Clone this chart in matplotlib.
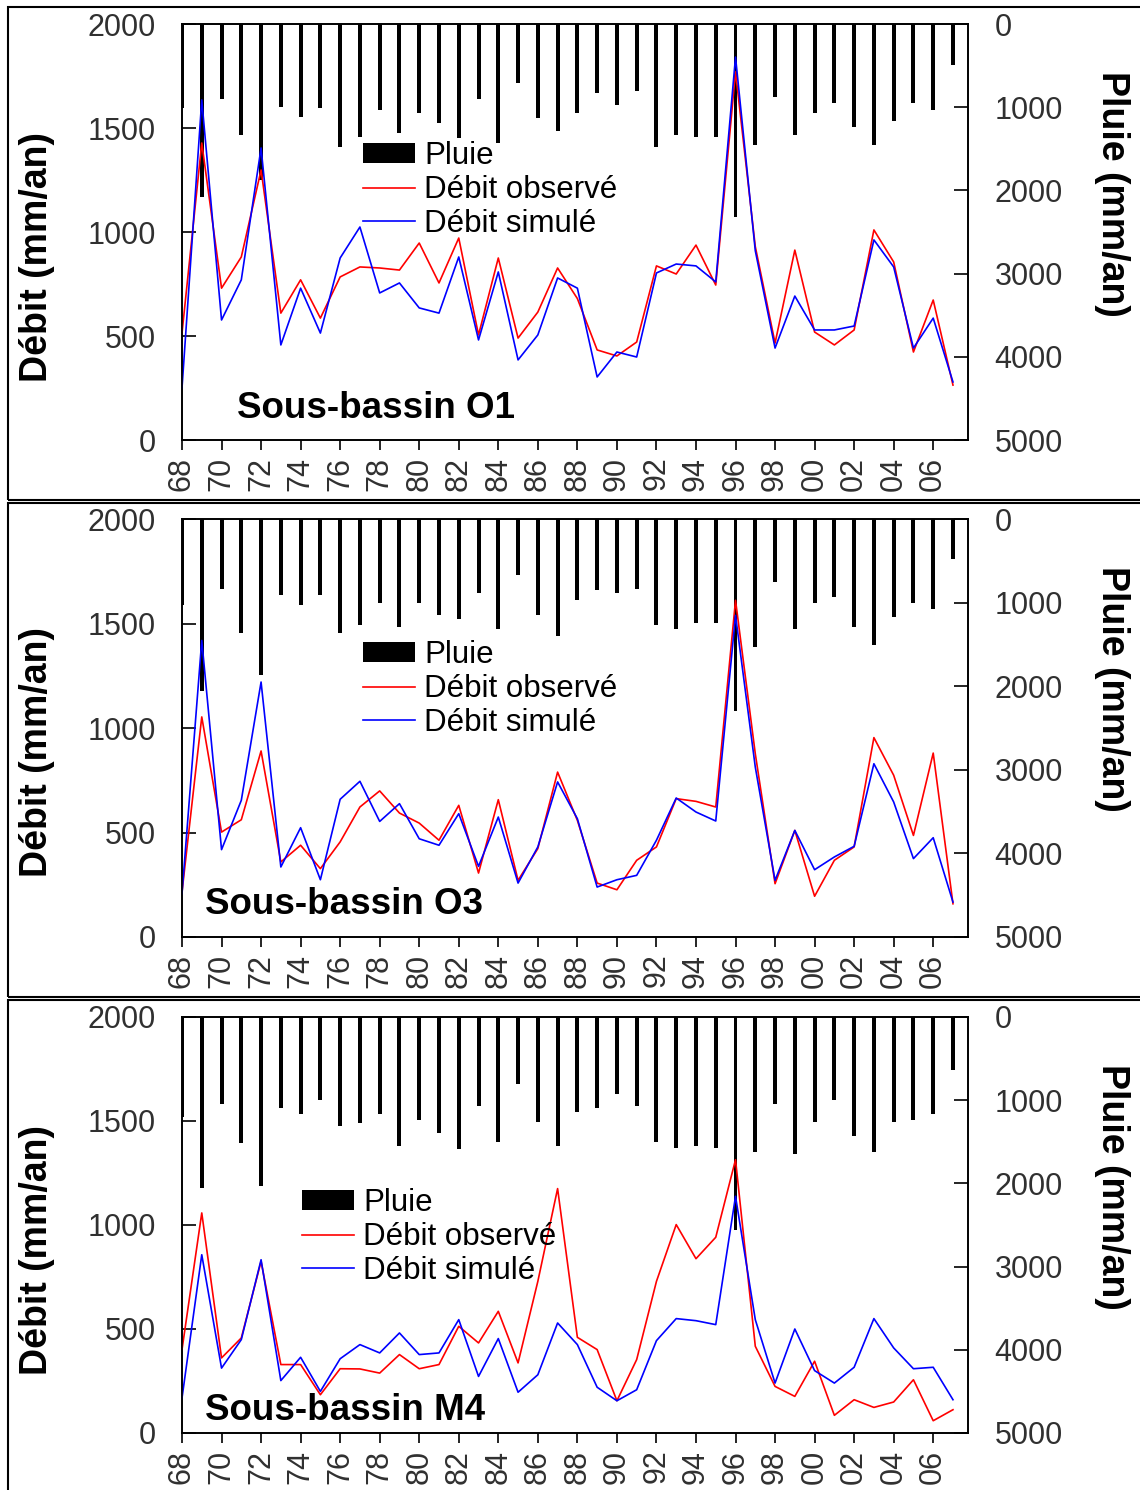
import numpy as np
import matplotlib
matplotlib.use("Agg")
import matplotlib.pyplot as plt
from matplotlib.patches import Rectangle

plt.rcParams['font.family'] = ['Liberation Sans', 'DejaVu Sans']

# Years 1968-2007
years = list(range(1968, 2008))
tick_years = list(range(1968, 2007, 2))
tick_labels = [f"{y % 100:02d}" for y in tick_years]

# Sous-bassin O1
rain_o1 = [1010, 2080, 900, 1334, 1875, 1000, 1115, 1010, 1475, 1355,
           1035, 1305, 1075, 1190, 1370, 900, 1430, 705, 1130, 1285,
           1070, 830, 975, 800, 1475, 1335, 1355, 1355, 2315, 1455,
           875, 1335, 1070, 945, 1235, 1455, 1165, 945, 1035, 490]
obs_o1 = [514, 1428, 730, 880, 1298, 610, 770, 586, 784, 832,
          827, 817, 947, 755, 971, 505, 875, 490, 615, 827,
          680, 433, 404, 471, 837, 798, 937, 745, 1770, 930,
          466, 913, 519, 457, 529, 1010, 856, 423, 673, 264]
sim_o1 = [250, 1635, 577, 770, 1404, 457, 730, 514, 875, 1024,
          707, 755, 635, 610, 880, 481, 808, 385, 505, 779,
          730, 303, 423, 399, 803, 846, 837, 760, 1841, 910,
          442, 692, 529, 529, 548, 962, 832, 442, 586, 279]

# Sous-bassin O3
rain_o3 = [1025, 2061, 837, 1364, 1862, 905, 1025, 905, 1364, 1264,
           1005, 1292, 1005, 1144, 1192, 885, 1316, 666, 1144, 1404,
           965, 853, 885, 837, 1264, 1316, 1244, 1244, 2300, 1531,
           758, 1316, 1005, 933, 1292, 1507, 1172, 1005, 1077, 478]
obs_o3 = [215, 1053, 502, 561, 890, 359, 439, 327, 455, 622,
          699, 593, 545, 463, 630, 306, 657, 271, 423, 789,
          558, 258, 226, 367, 431, 662, 649, 622, 1611, 877,
          255, 510, 195, 367, 431, 954, 774, 486, 880, 159]
sim_o3 = [207, 1419, 418, 654, 1220, 335, 523, 274, 659, 745,
          553, 638, 470, 439, 590, 338, 574, 258, 431, 742,
          566, 239, 274, 295, 463, 665, 598, 555, 1539, 813,
          271, 510, 322, 383, 434, 829, 646, 375, 475, 167]

# Sous-bassin M4
rain_m4 = [1200, 2052, 1040, 1520, 2028, 1092, 1160, 1000, 1308, 1280,
           1160, 1548, 1240, 1400, 1588, 1068, 1500, 808, 1260, 1548,
           1140, 1092, 924, 1068, 1500, 1572, 1548, 1572, 2560, 1620,
           1044, 1644, 1260, 1000, 1428, 1620, 1260, 1240, 1160, 640]
obs_m4 = [401, 1058, 361, 457, 825, 329, 329, 184, 309, 308,
          288, 377, 309, 329, 513, 433, 585, 337, 729, 1175,
          460, 401, 155, 353, 729, 1002, 838, 941, 1314, 417,
          224, 176, 345, 85, 160, 123, 149, 256, 59, 112]
sim_m4 = [168, 857, 312, 449, 833, 252, 364, 200, 357, 425,
          385, 481, 377, 385, 545, 272, 454, 196, 280, 529,
          425, 220, 155, 208, 444, 550, 540, 521, 1138, 545,
          240, 500, 300, 240, 316, 550, 409, 309, 316, 160]

panels = [
    ("Sous-bassin O1", rain_o1, obs_o1, sim_o1),
    ("Sous-bassin O3", rain_o3, obs_o3, sim_o3),
    ("Sous-bassin M4", rain_m4, obs_m4, sim_m4),
]

W, H = 1140, 1490
fig = plt.figure(figsize=(W / 100, H / 100), dpi=100)

def fx(px):
    return px / W

def fy(py):
    return 1 - py / H

# pixel layout of each panel: axes top, axes bottom, legend x, legend mid-row y,
# title x, title y, frame top, frame bottom
layout = [
    (24, 440, 363, 190, 237, 409, 7, 500),
    (519, 937, 363, 689, 205, 905, 503, 997),
    (1017, 1433, 302, 1237, 205, 1411, 1000, 1492),
]

tick_color = "#303030"
tick_size = 22

for (title, rain, obs, sim), (top, bot, lx, ly, tx, ty, ftop, fbot) in zip(panels, layout):
    # panel frame
    fig.add_artist(Rectangle((fx(8), fy(fbot)), fx(1140), (fbot - ftop) / H,
                             transform=fig.transFigure, fill=False,
                             edgecolor="black", linewidth=1.5, clip_on=False))

    ax = fig.add_axes([fx(182), fy(bot), fx(968 - 182), (bot - top) / H])
    ax2 = ax.twinx()

    bars = ax2.bar(years, rain, width=0.2, color="black", label="Pluie")
    ax2.set_ylim(5000, 0)
    ax2.set_yticks([0, 1000, 2000, 3000, 4000, 5000])
    ax2.tick_params(axis="y", direction="in", length=10, width=1.2, pad=19,
                    labelsize=tick_size, labelcolor=tick_color)

    # lines on top of the rain bars
    ax.set_zorder(ax2.get_zorder() + 1)
    ax.patch.set_visible(False)
    l_obs, = ax.plot(years, obs, color="#ff0000", lw=1.2, label="Débit observé")
    l_sim, = ax.plot(years, sim, color="#0000ff", lw=1.2, label="Débit simulé")

    ax.set_xlim(1968, 2007.76)
    ax.set_ylim(0, 2000)
    ax.set_yticks([0, 500, 1000, 1500, 2000])
    ax.set_xticks(tick_years)
    ax.set_xticklabels(tick_labels, rotation=90)
    ax.tick_params(axis="y", direction="in", length=10, width=1.2, pad=19,
                   labelsize=tick_size, labelcolor=tick_color)
    ax.tick_params(axis="x", direction="out", length=7, width=1.2, pad=5,
                   labelsize=tick_size, labelcolor=tick_color)
    for a in (ax, ax2):
        for s in a.spines.values():
            s.set_linewidth(1.2)

    ax.legend(handles=[bars, l_obs, l_sim], loc="center left",
              bbox_to_anchor=(fx(lx), fy(ly)), bbox_transform=fig.transFigure,
              frameon=False, fontsize=22.5, borderpad=0, borderaxespad=0,
              labelspacing=0.12, handlelength=1.65, handletextpad=0.3,
              handleheight=0.6)

    fig.text(fx(tx), fy(ty), title, fontsize=26.5, fontweight="bold",
             ha="left", va="center")
    fig.text(fx(37), fy(top + 233), "Débit (mm/an)", fontsize=27,
             fontweight="bold", rotation=90, ha="center", va="center")
    fig.text(fx(1112), fy(top + 170), "Pluie (mm/an)", fontsize=27,
             fontweight="bold", rotation=-90, ha="center", va="center")

fig.savefig("out.png", dpi=100)
